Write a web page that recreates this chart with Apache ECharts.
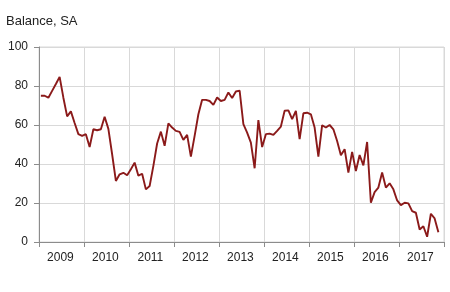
<!DOCTYPE html>
<html>
<head>
<meta charset="utf-8">
<script src="https://cdn.jsdelivr.net/npm/echarts@6/dist/echarts.min.js"></script>
<style>html,body{margin:0;padding:0;background:#fff}#c{width:450px;height:292px}</style>
</head>
<body>
<div id="c"></div>
<script>
var years = ['2009','2010','2011','2012','2013','2014','2015','2016','2017'];
var months = ['01','02','03','04','05','06','07','08','09','10','11','12'];
var yTicks = [0, 20, 40, 60, 80, 100];
// monthly balance, Jan 2009 .. Nov 2017
var balance = [
  75, 75, 74, 77.5, 81, 84.7, 74, 64.4, 67, 61, 55.3, 54.4,
  55.3, 48.7, 57.8, 57.3, 57.8, 64.2, 58, 45, 31.3, 34.7, 35.5, 34.2,
  37.3, 40.7, 34, 35, 27, 28.7, 39, 50.5, 56.6, 49.3, 60.8, 58.7,
  57, 56.5, 52.4, 54.9, 43.8, 54.4, 65.5, 72.9, 72.9, 72.3, 70.3, 74.1,
  72.3, 72.9, 76.7, 73.8, 77.2, 77.6, 60.4, 56.1, 51, 37.8, 62.5, 48.7,
  55.3, 55.6, 54.9, 57, 59.2, 67.3, 67.5, 63, 67.3, 52.7, 66, 66.3,
  65.5, 58.7, 43.8, 59.9, 58.7, 60, 57.8, 51.8, 44.5, 47.6, 35.6, 46.2,
  36.4, 44.6, 39.3, 51.3, 20.1, 25.6, 27.9, 35.6, 27.9, 30.1, 27, 21.3,
  18.9, 20.1, 19.8, 15.8, 15, 6.4, 8.1, 2.7, 14.5, 12.1, 5
];
var categories = [];
years.forEach(function (y) { months.forEach(function (m) { categories.push(y + '-' + m); }); });

var chart = echarts.init(document.getElementById('c'), null, {renderer: 'canvas'});
chart.setOption({
  animation: false,
  backgroundColor: '#ffffff',
  textStyle: {fontFamily: 'Liberation Sans, Arial, sans-serif'},
  title: {
    text: 'Balance, SA', left: 6, top: 15, padding: 0,
    textStyle: {fontSize: 13, fontWeight: 'normal', color: '#222', fontFamily: 'Liberation Sans, Arial, sans-serif'}
  },
  grid: {left: 39, right: 6, top: 47, bottom: 50, show: true, borderColor: '#d9d9d9', borderWidth: 1, containLabel: false},
  xAxis: {
    type: 'category',
    data: categories,
    boundaryGap: true,
    axisLine: {show: true, lineStyle: {color: '#8c8c8c', width: 1}},
    axisTick: {show: true, length: 5, interval: function (i) { return i % 12 === 0; }, lineStyle: {color: '#8c8c8c'}},
    splitLine: {show: true, interval: function (i) { return i % 12 === 0; }, lineStyle: {color: '#d9d9d9', width: 1}},
    axisLabel: {
      interval: function (i) { return i % 12 === 6; },
      formatter: function (v) { return v.slice(0, 4); },
      margin: 10, fontSize: 12, color: '#222', padding: [0, 6, 0, 0]
    }
  },
  yAxis: {
    type: 'value',
    min: yTicks[0], max: yTicks[yTicks.length - 1], interval: 20,
    axisLine: {show: true, lineStyle: {color: '#8c8c8c', width: 1}},
    axisTick: {show: true, length: 5, lineStyle: {color: '#8c8c8c'}},
    splitLine: {show: true, lineStyle: {color: '#d9d9d9', width: 1}},
    axisLabel: {margin: 11, fontSize: 12, color: '#222'}
  },
  series: [{
    type: 'line',
    data: balance,
    showSymbol: false,
    symbol: 'none',
    lineStyle: {color: '#8b1a1a', width: 1.9},
    itemStyle: {color: '#8b1a1a'}
  }]
});
</script>
</body>
</html>
